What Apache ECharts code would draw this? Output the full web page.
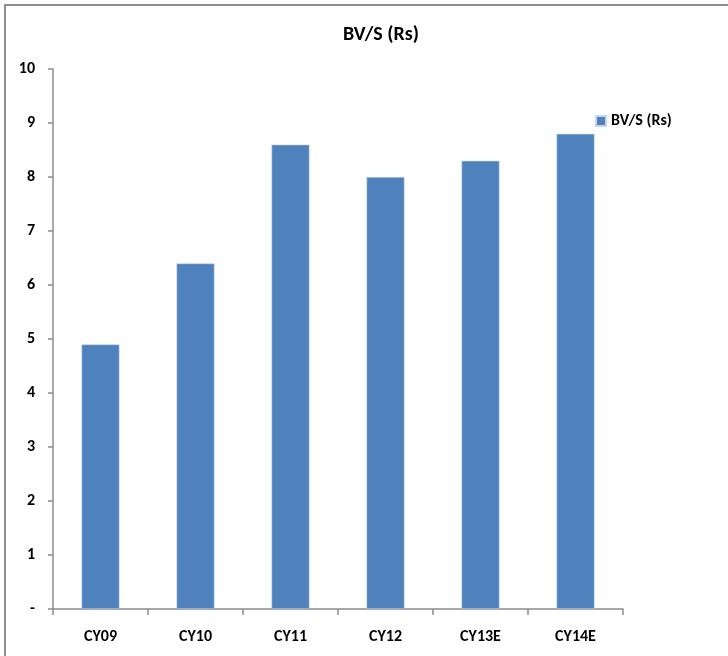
<!DOCTYPE html>
<html>
<head>
<meta charset="utf-8">
<script src="https://cdn.jsdelivr.net/npm/echarts@6/dist/echarts.min.js"></script>
<style>
  html, body { margin: 0; padding: 0; background: #fff; }
  #chart { width: 728px; height: 656px; }
</style>
</head>
<body>
<div id="chart"></div>
<script>
// Book value per share by calendar year (E = estimate)
const categories = ['CY09', 'CY10', 'CY11', 'CY12', 'CY13E', 'CY14E'];
const bvps = [4.9, 6.4, 8.6, 8.0, 8.3, 8.8];
const seriesName = 'BV/S (Rs)';
const yTicks = { min: 0, max: 10, interval: 1 };

const FONT = "Carlito, 'Liberation Sans Narrow', 'Open Sans', 'Liberation Sans', sans-serif";

const chart = echarts.init(document.getElementById('chart'), null, { renderer: 'canvas' });

chart.setOption({
  backgroundColor: '#ffffff',
  animation: false,
  title: {
    text: 'BV/S (Rs)',
    left: 376,
    textAlign: 'center',
    top: 20,
    textStyle: { fontFamily: FONT, fontWeight: 'bold', fontSize: 20, color: '#000' }
  },
  legend: {
    data: [seriesName],
    left: 590,
    top: 108,
    icon: 'rect',
    itemWidth: 10,
    itemHeight: 10,
    itemGap: 4,
    textStyle: { fontFamily: FONT, fontWeight: 'bold', fontSize: 16, color: '#000' }
  },
  grid: { left: 53, right: 105, top: 69, bottom: 47, containLabel: false },
  xAxis: {
    type: 'category',
    data: categories,
    axisLine: { lineStyle: { color: '#8c8c8c', width: 1.5 } },
    axisTick: { show: true, alignWithLabel: false, length: 6, lineStyle: { color: '#8c8c8c', width: 1.5 } },
    axisLabel: { fontFamily: FONT, fontWeight: 'bold', fontSize: 16, color: '#000', margin: 20 }
  },
  yAxis: {
    type: 'value',
    min: yTicks.min,
    max: yTicks.max,
    interval: yTicks.interval,
    splitLine: { show: false },
    axisLine: { show: true, lineStyle: { color: '#8c8c8c', width: 1.5 } },
    axisTick: { show: true, inside: false, length: 5, lineStyle: { color: '#8c8c8c', width: 1.5 } },
    axisLabel: {
      fontFamily: FONT, fontWeight: 'bold', fontSize: 16, color: '#000', margin: 18,
      formatter: v => (v === 0 ? '-' : String(v))
    }
  },
  series: [{
    name: seriesName,
    type: 'bar',
    data: bvps,
    barWidth: 38,
    itemStyle: { color: '#4f81bd', borderColor: '#c6d6ea', borderWidth: 0.6 }
  }],
  graphic: [
    // outer frame (top and left edges)
    { type: 'line', shape: { x1: 4, y1: 5, x2: 728, y2: 5 }, style: { stroke: '#8f8f8f', lineWidth: 2 } },
    { type: 'line', shape: { x1: 5, y1: 5, x2: 5, y2: 656 }, style: { stroke: '#8f8f8f', lineWidth: 2 } }
  ]
});
</script>
</body>
</html>
